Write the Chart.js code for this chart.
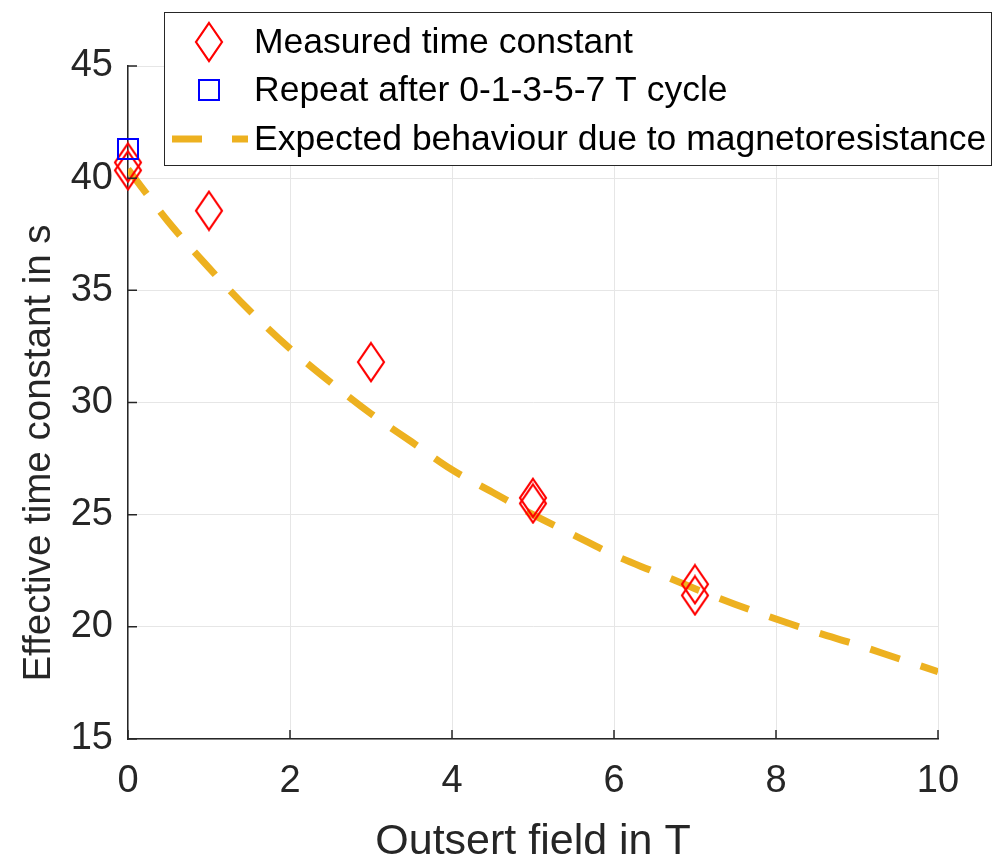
<!DOCTYPE html>
<html>
<head>
<meta charset="utf-8">
<script src="https://cdn.jsdelivr.net/npm/chart.js@4.4.1/dist/chart.umd.min.js"></script>
<style>
	html, body { margin: 0; padding: 0; background: #fff; }
</style>
</head>
<body>
<canvas id="grafico" width="994" height="858"></canvas>
<script>
// medidas
const campoMedido = [0, 0, 1, 3, 5, 5, 7, 7];
const tauMedido = [40.7, 40.35, 38.55, 31.8, 25.75, 25.5, 21.9, 21.4];

const campoRepeticao = [0];
const tauRepeticao = [41.3];

// curva esperada (magnetoresistencia)
const campoEsperado = [0, 0.5, 1, 1.5, 2, 2.5, 3, 3.5, 4, 4.5, 5, 5.5, 6, 6.5, 7, 7.5, 8, 8.5, 9, 9.5, 10];
const tauEsperado = [40.4, 38.05, 36.0, 34.1, 32.4, 30.9, 29.5, 28.25, 27.0, 26.0, 25.0, 24.1, 23.2, 22.45, 21.7, 21.0, 20.35, 19.75, 19.2, 18.6, 18.0];

const ticksX = [0, 2, 4, 6, 8, 10];
const ticksY = [15, 20, 25, 30, 35, 40, 45];

const nomes = [
	'Measured time constant',
	'Repeat after 0-1-3-5-7 T cycle',
	'Expected behaviour due to magnetoresistance'
];
const tituloX = 'Outsert field in T';
const tituloY = 'Effective time constant in s';

const corEixo = '#262626';
const fonte = "'Liberation Sans', Arial, sans-serif";

function losango() {
	const c = document.createElement('canvas');
	c.width = 30; c.height = 42;
	const ctx = c.getContext('2d');
	ctx.strokeStyle = '#ff0000';
	ctx.lineWidth = 2.2;
	ctx.beginPath();
	ctx.moveTo(15, 2);
	ctx.lineTo(28, 21);
	ctx.lineTo(15, 40);
	ctx.lineTo(2, 21);
	ctx.closePath();
	ctx.stroke();
	return c;
}

function quadrado() {
	const c = document.createElement('canvas');
	c.width = 24; c.height = 24;
	const ctx = c.getContext('2d');
	ctx.strokeStyle = '#0000ff';
	ctx.lineWidth = 2;
	ctx.strokeRect(2, 2, 20, 20);
	return c;
}

const imgLosango = losango();
const imgQuadrado = quadrado();

function pares(xs, ys) {
	return xs.map((x, i) => ({ x: x, y: ys[i] }));
}

// ticks para dentro, estilo matlab
const ticksDentro = {
	id: 'ticksDentro',
	afterDatasetsDraw(chart) {
		const ctx = chart.ctx;
		const area = chart.chartArea;
		const sx = chart.scales.x, sy = chart.scales.y;
		ctx.save();
		ctx.strokeStyle = corEixo;
		ctx.lineWidth = 1.5;
		ctx.beginPath();
		ticksX.forEach(v => {
			const px = sx.getPixelForValue(v);
			ctx.moveTo(px, area.bottom);
			ctx.lineTo(px, area.bottom - 9);
		});
		ticksY.forEach(v => {
			const py = sy.getPixelForValue(v);
			ctx.moveTo(area.left, py);
			ctx.lineTo(area.left + 9, py);
		});
		ctx.stroke();
		ctx.restore();
	}
};

// titulos dos eixos
const titulos = {
	id: 'titulos',
	afterDraw(chart) {
		const ctx = chart.ctx;
		const area = chart.chartArea;
		ctx.save();
		ctx.fillStyle = corEixo;
		ctx.textAlign = 'center';
		ctx.textBaseline = 'alphabetic';
		ctx.font = '43px ' + fonte;
		ctx.fillText(tituloX, (area.left + area.right) / 2, 854);
		ctx.translate(50, 453);
		ctx.rotate(-Math.PI / 2);
		ctx.font = '38.5px ' + fonte;
		ctx.fillText(tituloY, 0, 0);
		ctx.restore();
	}
};

const legendaCaixa = {
	id: 'legendaCaixa',
	afterDraw(chart) {
		const ctx = chart.ctx;
		ctx.save();
		ctx.fillStyle = '#fff';
		ctx.fillRect(164, 12, 828, 154);
		ctx.strokeStyle = corEixo;
		ctx.lineWidth = 1;
		ctx.strokeRect(164.5, 12.5, 827, 153);

		const linhas = [42, 90, 139];
		ctx.drawImage(imgLosango, 209 - 15, linhas[0] - 21);
		ctx.drawImage(imgQuadrado, 209 - 12, linhas[1] - 12);

		ctx.strokeStyle = '#EDB120';
		ctx.lineWidth = 7;
		ctx.setLineDash([30, 30]);
		ctx.beginPath();
		ctx.moveTo(172, linhas[2]);
		ctx.lineTo(248, linhas[2]);
		ctx.stroke();
		ctx.setLineDash([]);

		ctx.fillStyle = '#000';
		ctx.font = '35.5px ' + fonte;
		ctx.textBaseline = 'middle';
		nomes.forEach((n, i) => ctx.fillText(n, 254, linhas[i] + 1));
		ctx.restore();
	}
};

new Chart(document.getElementById('grafico'), {
	type: 'scatter',
	data: {
		datasets: [{
			label: nomes[2],
			type: 'line',
			data: pares(campoEsperado, tauEsperado),
			borderColor: '#EDB120',
			borderWidth: 7,
			borderDash: [31, 22],
			pointRadius: 0,
			cubicInterpolationMode: 'monotone',
			fill: false,
			order: 3
		}, {
			label: nomes[0],
			data: pares(campoMedido, tauMedido),
			pointStyle: imgLosango,
			clip: false,
			order: 2
		}, {
			label: nomes[1],
			data: pares(campoRepeticao, tauRepeticao),
			pointStyle: imgQuadrado,
			clip: false,
			order: 1
		}]
	},
	options: {
		responsive: false,
		animation: false,
		layout: { padding: { top: 66, right: 56, left: 0, bottom: 0 } },
		plugins: {
			legend: { display: false },
			tooltip: { enabled: false }
		},
		scales: {
			x: {
				type: 'linear',
				min: 0,
				max: 10,
				afterFit: s => { s.height = 119; },
				afterBuildTicks: s => { s.ticks = ticksX.map(v => ({ value: v })); },
				ticks: {
					font: { size: 38, family: fonte },
					color: corEixo,
					padding: 20
				},
				grid: { color: '#e6e6e6', lineWidth: 1, tickLength: 0 },
				border: { color: corEixo, width: 1.5 }
			},
			y: {
				type: 'linear',
				min: 15,
				max: 45,
				afterFit: s => { s.width = 128; },
				afterBuildTicks: s => { s.ticks = ticksY.map(v => ({ value: v })); },
				ticks: {
					font: { size: 38, family: fonte },
					color: corEixo,
					padding: 15
				},
				grid: { color: '#e6e6e6', lineWidth: 1, tickLength: 0 },
				border: { color: corEixo, width: 1.5 }
			}
		}
	},
	plugins: [ticksDentro, titulos, legendaCaixa]
});
</script>
</body>
</html>
